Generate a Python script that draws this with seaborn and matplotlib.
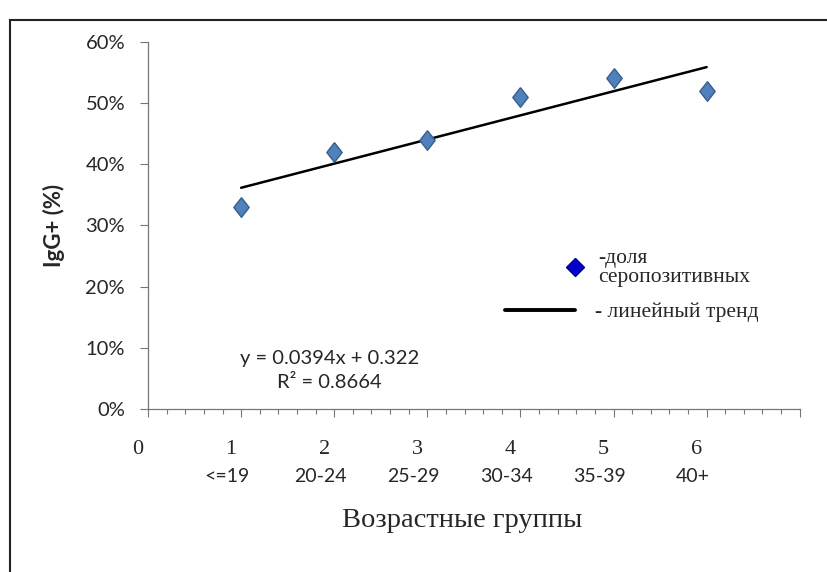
import numpy as np
import pandas as pd
import matplotlib
matplotlib.use('Agg')
import matplotlib.pyplot as plt
import matplotlib.transforms as mtransforms
import seaborn as sns
from matplotlib.lines import Line2D
from matplotlib.patches import Rectangle
from matplotlib.ticker import MultipleLocator, PercentFormatter

groups = [1, 2, 3, 4, 5, 6]
age_labels = ['<=19', '20-24', '25-29', '30-34', '35-39', '40+']
igg_share = [0.33, 0.42, 0.44, 0.51, 0.54, 0.52]

df = pd.DataFrame({'group': groups, 'share': igg_share})

slope, intercept = np.polyfit(df['group'], df['share'], 1)
r2 = np.corrcoef(df['group'], df['share'])[0, 1] ** 2

sns.set_style('white')
plt.rcParams['font.family'] = ['Lato', 'DejaVu Sans']

fig = plt.figure(figsize=(8.27, 5.72), dpi=100)
ax = fig.add_axes([0.179, 0.285, 0.788, 0.642])

diamond = [(0, 1), (0.78, 0), (0, -1), (-0.78, 0), (0, 1)]
sns.regplot(data=df, x='group', y='share', ax=ax, scatter=False, ci=None,
            line_kws={'color': 'black', 'lw': 1.8})
sns.scatterplot(data=df, x='group', y='share', ax=ax, marker=diamond, s=200,
                color='#4F81BD', edgecolor='#385D8A', linewidth=1, zorder=3)

ax.set_xlim(0, 7)
ax.set_ylim(0, 0.6)
ax.set_yticks(np.arange(0, 0.61, 0.1))
ax.yaxis.set_major_formatter(PercentFormatter(1.0, decimals=0))
ax.set_xticks(range(0, 8))
ax.set_xticklabels([str(i) for i in range(0, 7)] + [''],
                   family='Liberation Serif', fontsize=16)
ax.xaxis.set_minor_locator(MultipleLocator(0.2))
ax.tick_params(axis='x', which='major', direction='out', length=6, width=0.8,
               color='#777777', bottom=True, pad=16)
ax.tick_params(axis='x', which='minor', direction='out', length=3.8, width=0.8,
               color='#777777', bottom=True)
ax.tick_params(axis='y', direction='out', length=6, width=0.8, color='#777777',
               left=True, labelsize=14.5, pad=10.5)
for side in ['top', 'right']:
    ax.spines[side].set_visible(False)
for side in ['left', 'bottom']:
    ax.spines[side].set_color('#777777')
    ax.spines[side].set_linewidth(0.9)

# the group numbers sit slightly left of their ticks in the original
shift = mtransforms.ScaledTranslation(-0.1, 0, fig.dpi_scale_trans)
for lab in ax.get_xticklabels():
    lab.set_transform(lab.get_transform() + shift)

age_shift = mtransforms.ScaledTranslation(-0.14, 0, fig.dpi_scale_trans)
for g, lab in zip(groups, age_labels):
    ax.text(g, -0.183, lab, transform=ax.get_xaxis_transform() + age_shift,
            ha='center', va='center', fontsize=14)

ax.set_xlabel('Возрастные группы', family='Liberation Serif', fontsize=20.5)
ax.xaxis.label.set_va('center')
ax.xaxis.set_label_coords(0.482, -0.305)
ax.set_ylabel('IgG+ (%)', fontsize=16, fontweight='bold')
ax.yaxis.set_label_coords(-0.127, 0.499)

ax.text(1.95, 0.063, f'y = {slope:.4f}x + {intercept:.3f}\nR² = {r2:.4f}',
        ha='center', va='center', fontsize=14.5, linespacing=1.5)

h1 = Line2D([], [], marker='D', linestyle='none', markersize=9,
            markerfacecolor='#0000CC', markeredgecolor='#00008B')
leg1 = ax.legend([h1], ['-доля\nсеропозитивных'], loc='center left',
                 bbox_to_anchor=(0.638, 0.384), frameon=False, borderpad=0,
                 borderaxespad=0, handlelength=1.0, handletextpad=0.58,
                 prop={'family': 'Liberation Serif', 'size': 15.5})
for t in leg1.get_texts():
    t.set_linespacing(1.0)
ax.add_artist(leg1)
h2 = Line2D([], [], color='black', lw=2.8)
ax.legend([h2], ['- линейный тренд'], loc='center left',
          bbox_to_anchor=(0.548, 0.264), frameon=False, borderpad=0,
          borderaxespad=0, handlelength=3.25, handletextpad=0.93,
          prop={'family': 'Liberation Serif', 'size': 15.5})

fig.add_artist(Rectangle((0.012, -0.1), 1.2, 1.065, transform=fig.transFigure,
                         fill=False, edgecolor='#222222', lw=1.5))

fig.savefig('out.png', dpi=100)
